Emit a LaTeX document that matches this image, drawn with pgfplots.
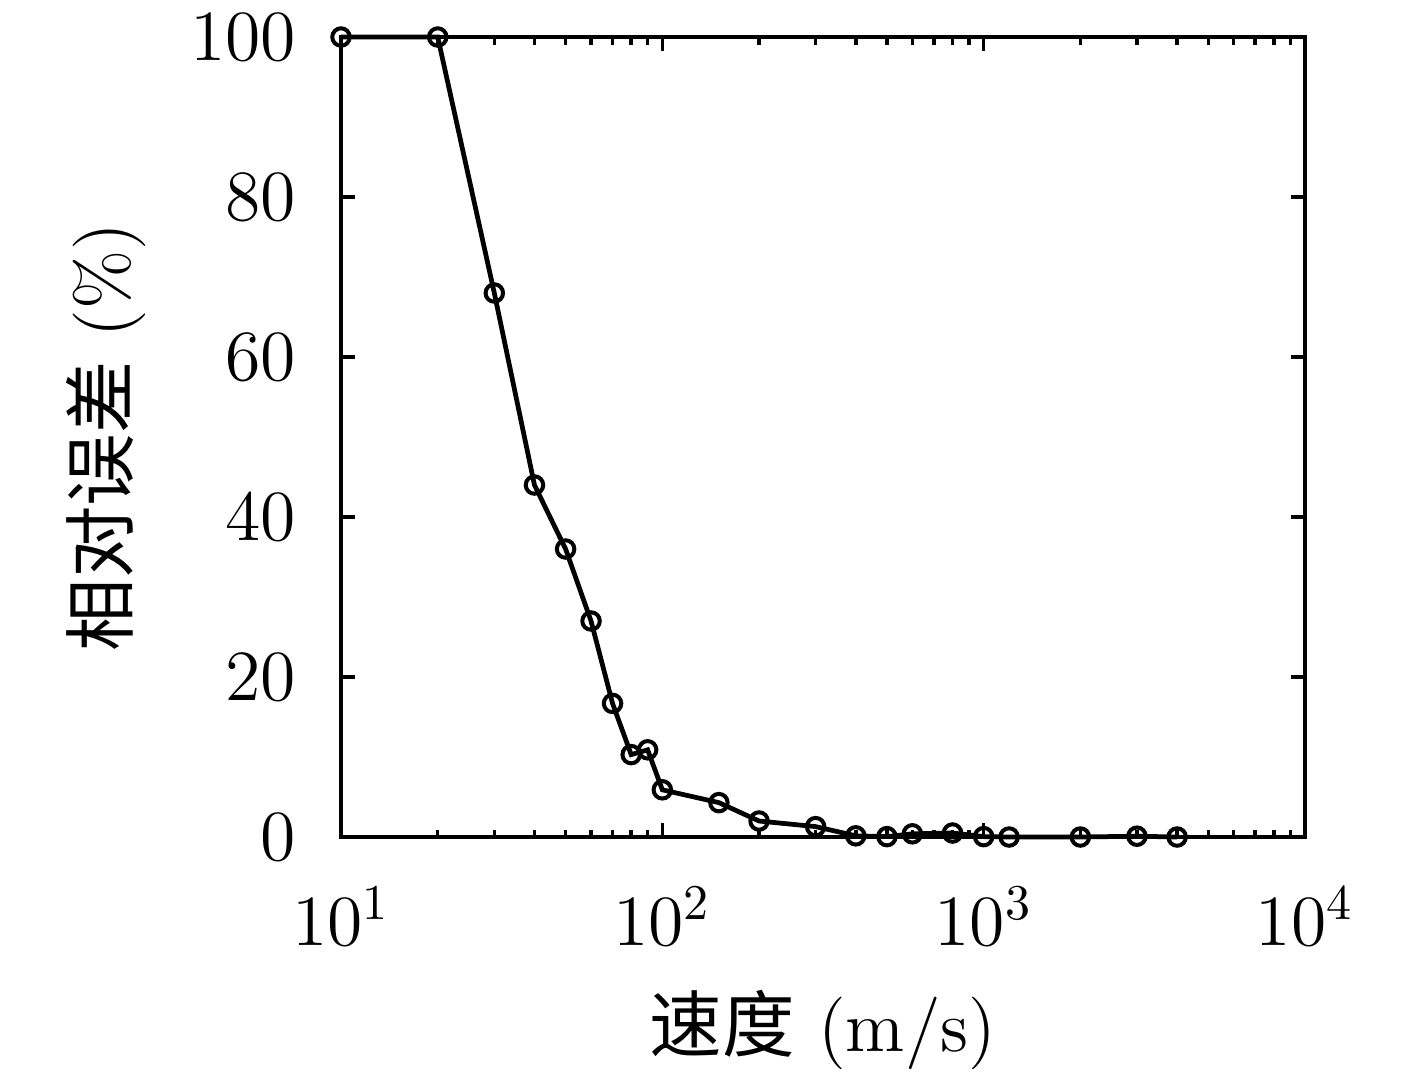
\documentclass[border=0pt]{standalone}
\usepackage{fontspec}
\newfontfamily\cjk{Noto Sans CJK SC}
\usepackage{pgfplots}
\pgfplotsset{compat=1.18}

\begin{document}
\fontsize{14.5}{17}\selectfont
\begin{tikzpicture}
\useasboundingbox (-68.2pt,-47.6pt) rectangle (215.2pt,167.4pt);
\begin{axis}[
    at={(0,0)}, anchor=south west,
    scale only axis,
    width=192.8pt, height=160pt,
    xmode=log,
    xmin=10, xmax=10000,
    ymin=0, ymax=100,
    ytick={0,20,40,60,80,100},
    axis line style={line width=0.9pt},
    tick style={line width=0.7pt, black},
    major tick length=2.8pt,
    minor tick length=1.5pt,
    tick align=inside,
    xtick pos=both, ytick pos=both,
    yticklabel style={xshift=-4pt},
    xticklabel style={yshift=-5pt},
    xlabel={{\cjk 速度} (m/s)},
    ylabel={{\cjk 相对误差} (\%)},
    xlabel style={yshift=1pt},
    ylabel style={yshift=-1pt},
    clip=false,
]
\addplot[black, line width=0.95pt, mark=o, mark size=1.75pt,
         mark options={line width=0.8pt}] coordinates {
    (10,100) (20,100) (30,68) (40,44) (50,36) (60,27) (70,16.7)
    (80,10.3) (90,10.9) (100,5.9) (150,4.3) (200,2.0) (300,1.3)
    (400,0.15) (500,0.05) (600,0.4) (800,0.5) (1000,0.05) (1200,0.0)
    (2000,0.0) (3000,0.1) (4000,0.0)
};
\end{axis}
\end{tikzpicture}
\end{document}
